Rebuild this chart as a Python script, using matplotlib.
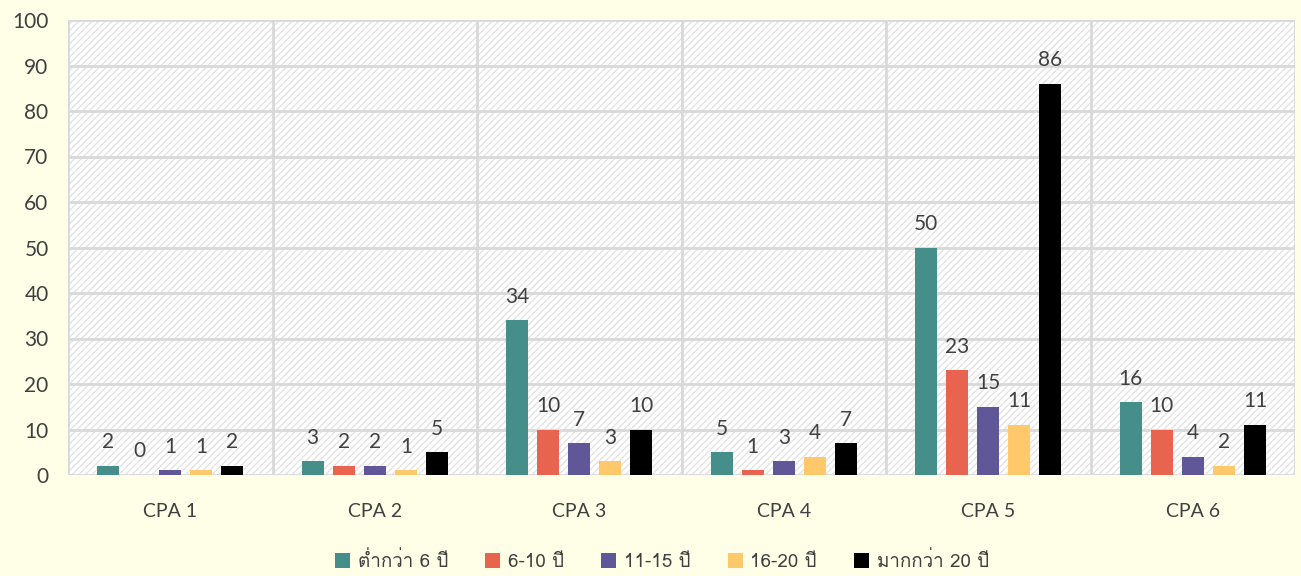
import matplotlib
matplotlib.use("Agg")
import matplotlib.pyplot as plt
from matplotlib import font_manager
from matplotlib.ft2font import FT2Font
from matplotlib.patches import Rectangle
import numpy as np

categories = ["CPA 1", "CPA 2", "CPA 3", "CPA 4", "CPA 5", "CPA 6"]
series_names = ["ต่ำกว่า 6 ปี", "6-10 ปี", "11-15 ปี", "16-20 ปี", "มากกว่า 20 ปี"]
s1 = [2, 3, 34, 5, 50, 16]
s2 = [0, 2, 10, 1, 23, 10]
s3 = [1, 2, 7, 3, 15, 4]
s4 = [1, 1, 3, 4, 11, 2]
s5 = [2, 5, 10, 7, 86, 11]
series = [s1, s2, s3, s4, s5]
colors = ["#458E8A", "#E8644E", "#5F5797", "#FFC96B", "#000000"]
yticks = list(range(0, 101, 10))

# find a font with Thai glyphs
thai_font = None
for f in font_manager.fontManager.ttflist:
    try:
        cm = FT2Font(f.fname).get_charmap()
        if 0x0E01 in cm and 0x0E35 in cm:
            thai_font = f.name
            break
    except Exception:
        pass
legend_family = [thai_font, "DejaVu Sans"] if thai_font else ["DejaVu Sans"]

txt = "#404040"
plt.rcParams["font.family"] = ["Lato", "DejaVu Sans"]
plt.rcParams["hatch.linewidth"] = 1.0

fig = plt.figure(figsize=(13.01, 5.76), dpi=100, facecolor="#FFFFE8")
ax = fig.add_axes([68/1301, 1-475/576, (1295-68)/1301, (475-20)/576])
ax.set_facecolor("white")
ax.add_patch(Rectangle((0, 0), 1, 1, transform=ax.transAxes, facecolor="white",
                       edgecolor="#E4E4E4", hatch="/////", linewidth=0, zorder=0))

x = np.arange(len(categories))
w = 0.107
step = 0.152
for i, (vals, c) in enumerate(zip(series, colors)):
    pos = x + (i - 2) * step
    ax.bar(pos, vals, width=w, color=c, zorder=3, label=series_names[i])
    for p, v in zip(pos, vals):
        ax.text(p, v + 3.0, str(v), ha="center", va="bottom", fontsize=15, color=txt, zorder=4)

ax.set_xlim(-0.5, len(categories) - 0.5)
ax.set_ylim(0, 100)
ax.set_yticks(yticks)
ax.set_yticklabels([str(t) for t in yticks], fontsize=15, color=txt)
ax.set_xticks(x)
ax.set_xticklabels(categories, fontsize=14, color=txt)
ax.tick_params(axis="both", length=0)
ax.tick_params(axis="x", pad=20)
ax.tick_params(axis="y", pad=14)
for b in np.arange(-0.5, len(categories), 1.0):
    ax.axvline(b, color="#D9D9D9", linewidth=2, zorder=1)
for t in yticks:
    ax.axhline(t, color="#D9D9D9", linewidth=2, zorder=1)
for s in ax.spines.values():
    s.set_visible(False)

leg = fig.legend(loc="center", bbox_to_anchor=(662/1301, 1-561/576), ncol=5, frameon=False,
                 prop={"family": legend_family, "size": 13.5}, handlelength=0.8, handleheight=0.8,
                 columnspacing=2.0, handletextpad=0.4)
for t in leg.get_texts():
    t.set_color(txt)

fig.savefig("out.png", dpi=100, facecolor=fig.get_facecolor())
